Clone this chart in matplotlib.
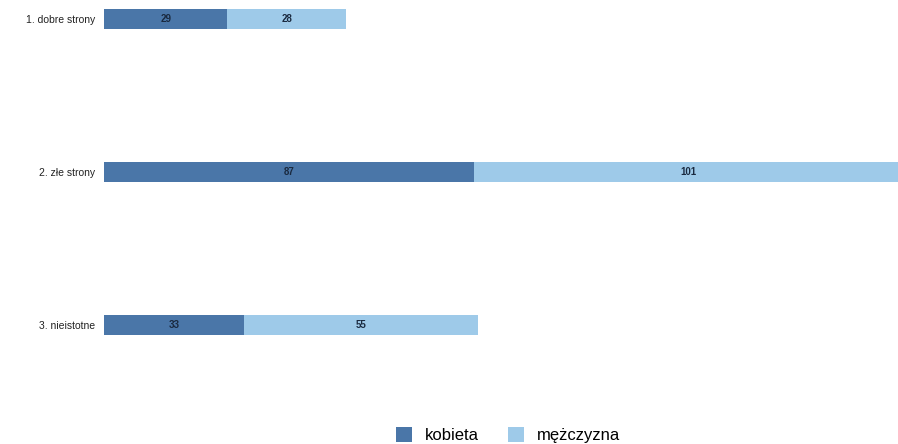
import matplotlib
matplotlib.use("Agg")
import matplotlib.pyplot as plt

categories = ["1. dobre strony", "2. złe strony", "3. nieistotne"]
kobieta = [29, 87, 33]
mezczyzna = [28, 101, 55]
series_names = ["kobieta", "mężczyzna"]

plt.rcParams['font.family'] = ['Liberation Sans', 'DejaVu Sans']

fig = plt.figure(figsize=(8.98, 4.44), dpi=100)
ax = fig.add_axes([104/898, 1 - 400/444, 1 - 104/898, 400/444])

c1 = "#4a76a8"
c2 = "#9ecae9"
h = 0.135
y = list(range(len(categories)))
b1 = ax.barh(y, kobieta, height=h, color=c1, label=series_names[0])
b2 = ax.barh(y, mezczyzna, left=kobieta, height=h, color=c2, label=series_names[1])

for bars in (b1, b2):
    for r in bars:
        ax.text(r.get_x() + r.get_width() / 2, r.get_y() + r.get_height() / 2,
                f"{int(r.get_width())}", ha="center", va="center",
                fontsize=7, fontweight="bold", color="#1a2a40")

ax.set_xlim(0, 186.7)
ax.set_ylim(2.49, -0.124)
ax.set_yticks(y)
ax.set_yticklabels(categories, fontsize=7.5, color="#222222")
ax.tick_params(axis="y", length=0, pad=6.5)
ax.set_xticks([])
for s in ax.spines.values():
    s.set_visible(False)

fig.legend(loc="center", bbox_to_anchor=(0.566, 0.02), ncol=2, frameon=False,
           fontsize=12, handlelength=0.96, handleheight=0.96, columnspacing=1.75,
           handletextpad=0.78)

fig.savefig("out.png", dpi=100)
